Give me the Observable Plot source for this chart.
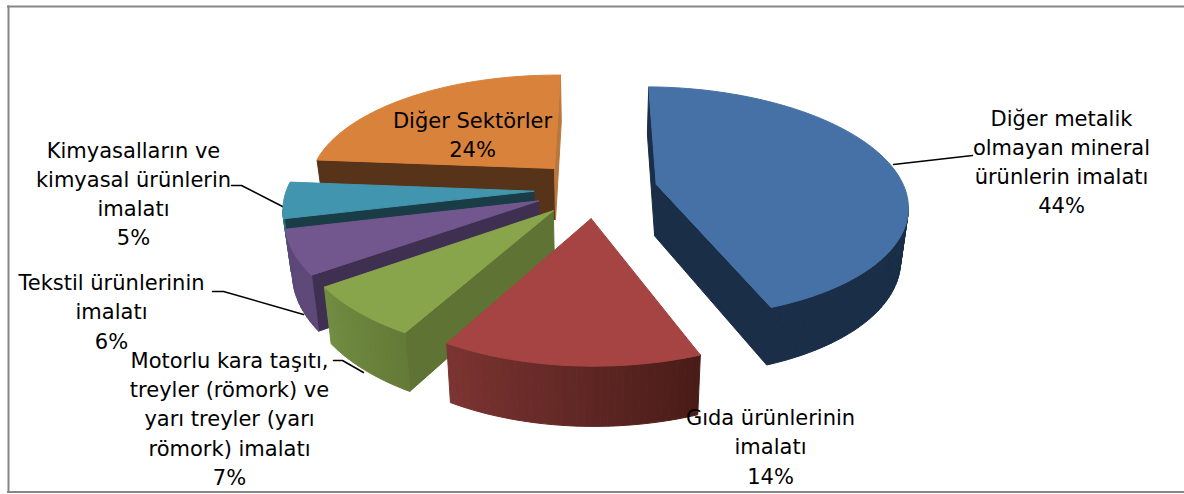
<!DOCTYPE html>
<html><head><meta charset="utf-8">
<script src="https://cdn.jsdelivr.net/npm/d3@7"></script>
<script src="https://cdn.jsdelivr.net/npm/@observablehq/plot@0.6"></script>
<style>html,body{margin:0;padding:0;background:#fff;overflow:hidden}svg{display:block}</style>
</head><body><div id="chart"></div>
<script>
// Data, clockwise from the top of the pie
const sectors = ["Diğer metalik olmayan mineral ürünlerin imalatı","Gıda ürünlerinin imalatı","Motorlu kara taşıtı, treyler (römork) ve yarı treyler (yarı römork) imalatı","Tekstil ürünlerinin imalatı","Kimyasalların ve kimyasal ürünlerin imalatı","Diğer Sektörler"];
const shares = [44, 14, 7, 6, 5, 24];
const labelLines = [
  "Diğer metalik\nolmayan mineral\nürünlerin imalatı\n44%",
  "Gıda ürünlerinin\nimalatı\n14%",
  "Motorlu kara taşıtı,\ntreyler (römork) ve\nyarı treyler (yarı\nrömork) imalatı\n7%",
  "Tekstil ürünlerinin\nimalatı\n6%",
  "Kimyasalların ve\nkimyasal ürünlerin\nimalatı\n5%",
  "Diğer Sektörler\n24%"
];
const labelX = [1061, 770, 229, 111, 133, 472];
const labelY = [159.5, 444.5, 416.5, 309.5, 191.5, 133];
const leaders = [
  [[893,164],[972,155]],
  [[363,372],[342,360],[333,360]],
  [[303,314],[223,291],[212,291]],
  [[284,207],[241,185],[231,185]]
];
const topColors = ["#4571A6","#A54442","#89A54B","#72578E","#4295AE","#D9823C"];
const startWall = ["#1A2E47","#6B2E2C","#5F7335","#3F2F50","#1A3C47","#57331A"];
const endWall   = ["#1A2E47","#6B2E2C","#5F7335","#3F2F50","#1A3C47","#B9773B"];
const outerFrom = ["#1A2E47","#4A1C18","#647A37","#5E4878","#2E6E80","#57331A"];
const outerTo   = ["#1A2E47","#7B3432","#728D42","#5E4878","#2E6E80","#57331A"];
const paintOrder = [5,4,3,2,0,1];

// 3D pie projection
const cx=595, cy=188.5, A=248.5, B=114, k=0.157, depth=52, shrink=0.975, explode=0.25, startAngle=1;
const total = d3.sum(shares);
const rad = d => d*Math.PI/180;
function topPt(px,pz){const w=1+k*pz; return {x:cx+A*px/w-3*pz+5*Math.max(0,-px)*Math.max(0,0.3-pz), y:cy-B*pz/w, w};}
function botPt(p){return {x:cx+(p.x-cx)*shrink, y:cy+(p.y-cy)*shrink+depth/p.w};}

const polys=[];
let pid=0;
function addPoly(pts,c){const id=pid++; [...pts,pts[0]].forEach(p=>polys.push({id,x:p.x,y:p.y,c}));}
function wall(P,Q,c){addPoly([P,Q,botPt(Q),botPt(P)],c);}

let acc=0; const spans=shares.map(v=>{const a0=startAngle+acc/total*360; acc+=v; return [a0,startAngle+acc/total*360];});
for(const i of paintOrder){
  const [a0,a1]=spans[i], mid=rad((a0+a1)/2);
  const ex=explode*Math.sin(mid), ez=explode*Math.cos(mid);
  const apex=topPt(ex,ez);
  const n=Math.max(8,Math.round((a1-a0)/1.5));
  const arc=d3.range(n+1).map(j=>{const t=rad(a0+(a1-a0)*j/n);return topPt(ex+Math.sin(t),ez+Math.cos(t));});
  if(arc[0].x<apex.x) wall(apex,arc[0],startWall[i]);
  if(apex.x<arc[n].x) wall(arc[n],apex,endWall[i]);
  const col=d3.interpolateRgb(outerFrom[i],outerTo[i]);
  const vis=d3.range(n).filter(j=>arc[j+1].x<arc[j].x);
  vis.forEach((j,m)=>wall(arc[j],arc[j+1],d3.color(col(vis.length>1?m/(vis.length-1):0)).formatHex()));
  addPoly([apex,...arc],topColors[i]);
}
const leaderRows=leaders.flatMap((l,id)=>l.map(([x,y])=>({id,x,y})));
const labels=labelLines.map((t,i)=>({t,x:labelX[i],y:labelY[i],name:sectors[i],share:shares[i]}));

const plot=Plot.plot({
  width:1184,height:494,margin:0,
  x:{domain:[0,1184],range:[0,1184],axis:null},
  y:{domain:[0,494],range:[0,494],axis:null},
  color:{type:"identity"},
  marks:[
    Plot.ruleX([8],{y1:5.5,y2:492,stroke:"#868686",strokeWidth:2}),
    Plot.ruleY([6,491.5],{x1:7,x2:1184,stroke:"#868686",strokeWidth:2}),
    Plot.line(leaderRows,{x:"x",y:"y",z:"id",stroke:"#000",strokeWidth:1.5}),
    Plot.line(polys,{x:"x",y:"y",z:"id",fill:"c",stroke:"c",strokeWidth:1}),
    Plot.text(labels,{x:"x",y:"y",text:"t",fontFamily:"DejaVu Sans",fontSize:21,lineHeight:1.39,fill:"#000",textAnchor:"middle"})
  ]
});
document.getElementById("chart").append(plot);
</script></body></html>
